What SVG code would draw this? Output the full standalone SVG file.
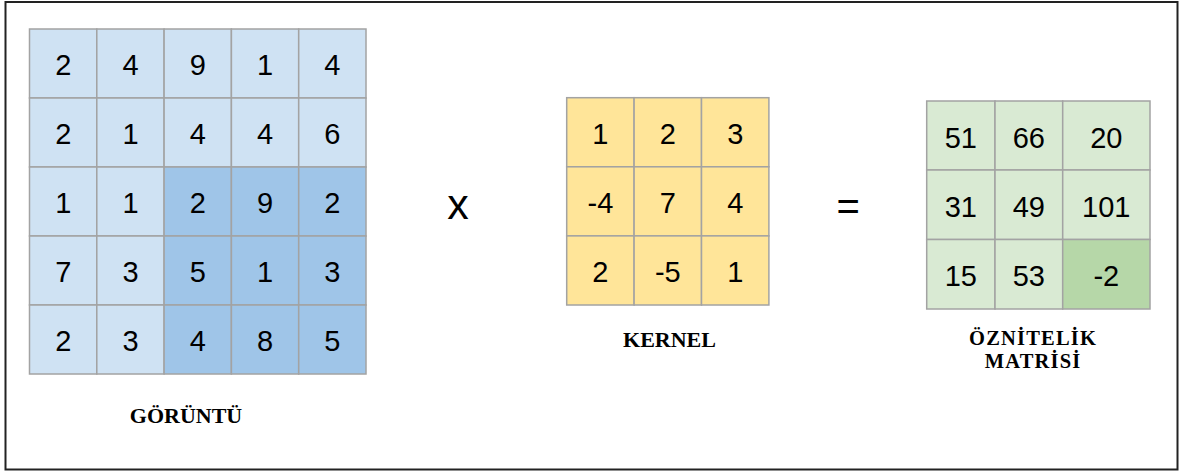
<svg xmlns="http://www.w3.org/2000/svg" width="1187" height="471" viewBox="0 0 1187 471">
<style>
.c{stroke:#a3a3a3;stroke-width:1.5}
.lb{fill:#cfe2f3}.db{fill:#9fc5e8}.y{fill:#ffe599}.lg{fill:#d9ead3}.dg{fill:#b6d7a8}
.n{font-family:"Liberation Sans",Arial,sans-serif;font-size:29px;fill:#000;text-anchor:middle}
.t{font-family:"Liberation Serif","Times New Roman",serif;font-size:22px;font-weight:bold;fill:#000;text-anchor:middle}
.t2{font-family:"Liberation Serif","Times New Roman",serif;font-size:20.5px;letter-spacing:1.2px;font-weight:bold;fill:#000;text-anchor:middle}
.op{font-family:"Liberation Sans",Arial,sans-serif;fill:#000;text-anchor:middle}
</style>
<rect x="0" y="0" width="1187" height="471" fill="#fff"/>
<rect x="5.5" y="2" width="1172" height="467.5" fill="none" stroke="#222" stroke-width="2"/>

<g id="goruntu">
<rect class="c lb" x="29.5" y="29" width="67.3" height="69"/>
<rect class="c lb" x="96.8" y="29" width="67.3" height="69"/>
<rect class="c lb" x="164.1" y="29" width="67.3" height="69"/>
<rect class="c lb" x="231.4" y="29" width="67.3" height="69"/>
<rect class="c lb" x="298.7" y="29" width="67.3" height="69"/>
<rect class="c lb" x="29.5" y="98" width="67.3" height="69"/>
<rect class="c lb" x="96.8" y="98" width="67.3" height="69"/>
<rect class="c lb" x="164.1" y="98" width="67.3" height="69"/>
<rect class="c lb" x="231.4" y="98" width="67.3" height="69"/>
<rect class="c lb" x="298.7" y="98" width="67.3" height="69"/>
<rect class="c lb" x="29.5" y="167" width="67.3" height="69"/>
<rect class="c lb" x="96.8" y="167" width="67.3" height="69"/>
<rect class="c db" x="164.1" y="167" width="67.3" height="69"/>
<rect class="c db" x="231.4" y="167" width="67.3" height="69"/>
<rect class="c db" x="298.7" y="167" width="67.3" height="69"/>
<rect class="c lb" x="29.5" y="236" width="67.3" height="69"/>
<rect class="c lb" x="96.8" y="236" width="67.3" height="69"/>
<rect class="c db" x="164.1" y="236" width="67.3" height="69"/>
<rect class="c db" x="231.4" y="236" width="67.3" height="69"/>
<rect class="c db" x="298.7" y="236" width="67.3" height="69"/>
<rect class="c lb" x="29.5" y="305" width="67.3" height="69"/>
<rect class="c lb" x="96.8" y="305" width="67.3" height="69"/>
<rect class="c db" x="164.1" y="305" width="67.3" height="69"/>
<rect class="c db" x="231.4" y="305" width="67.3" height="69"/>
<rect class="c db" x="298.7" y="305" width="67.3" height="69"/>
<text class="n" x="63.2" y="75">2</text><text class="n" x="130.5" y="75">4</text><text class="n" x="197.8" y="75">9</text><text class="n" x="265.1" y="75">1</text><text class="n" x="332.4" y="75">4</text>
<text class="n" x="63.2" y="144">2</text><text class="n" x="130.5" y="144">1</text><text class="n" x="197.8" y="144">4</text><text class="n" x="265.1" y="144">4</text><text class="n" x="332.4" y="144">6</text>
<text class="n" x="63.2" y="213">1</text><text class="n" x="130.5" y="213">1</text><text class="n" x="197.8" y="213">2</text><text class="n" x="265.1" y="213">9</text><text class="n" x="332.4" y="213">2</text>
<text class="n" x="63.2" y="282">7</text><text class="n" x="130.5" y="282">3</text><text class="n" x="197.8" y="282">5</text><text class="n" x="265.1" y="282">1</text><text class="n" x="332.4" y="282">3</text>
<text class="n" x="63.2" y="351">2</text><text class="n" x="130.5" y="351">3</text><text class="n" x="197.8" y="351">4</text><text class="n" x="265.1" y="351">8</text><text class="n" x="332.4" y="351">5</text>
<text class="t" x="186" y="423">GÖRÜNTÜ</text>
</g>

<g id="operator-x">
<text class="op" x="458" y="219" font-size="43">x</text>
</g>

<g id="kernel">
<rect class="c y" x="566.7" y="97.7" width="67.4" height="69.1"/>
<rect class="c y" x="634.1" y="97.7" width="67.4" height="69.1"/>
<rect class="c y" x="701.5" y="97.7" width="67.4" height="69.1"/>
<rect class="c y" x="566.7" y="166.8" width="67.4" height="69.1"/>
<rect class="c y" x="634.1" y="166.8" width="67.4" height="69.1"/>
<rect class="c y" x="701.5" y="166.8" width="67.4" height="69.1"/>
<rect class="c y" x="566.7" y="235.9" width="67.4" height="69.1"/>
<rect class="c y" x="634.1" y="235.9" width="67.4" height="69.1"/>
<rect class="c y" x="701.5" y="235.9" width="67.4" height="69.1"/>
<text class="n" x="600.4" y="143.8">1</text><text class="n" x="667.8" y="143.8">2</text><text class="n" x="735.2" y="143.8">3</text>
<text class="n" x="600.4" y="212.9">-4</text><text class="n" x="667.8" y="212.9">7</text><text class="n" x="735.2" y="212.9">4</text>
<text class="n" x="600.4" y="282">2</text><text class="n" x="667.8" y="282">-5</text><text class="n" x="735.2" y="282">1</text>
<text class="t" x="669.5" y="346.5">KERNEL</text>
</g>

<g id="operator-eq">
<text class="op" x="848.3" y="219.7" font-size="40">=</text>
</g>

<g id="oznitelik">
<rect class="c lg" x="926.7" y="101" width="68.3" height="69"/>
<rect class="c lg" x="995" y="101" width="67.7" height="69"/>
<rect class="c lg" x="1062.7" y="101" width="87.3" height="69"/>
<rect class="c lg" x="926.7" y="170" width="68.3" height="69.5"/>
<rect class="c lg" x="995" y="170" width="67.7" height="69.5"/>
<rect class="c lg" x="1062.7" y="170" width="87.3" height="69.5"/>
<rect class="c lg" x="926.7" y="239.5" width="68.3" height="69.5"/>
<rect class="c lg" x="995" y="239.5" width="67.7" height="69.5"/>
<rect class="c dg" x="1062.7" y="239.5" width="87.3" height="69.5"/>
<text class="n" x="960.8" y="147.5">51</text><text class="n" x="1028.8" y="147.5">66</text><text class="n" x="1106.3" y="147.5">20</text>
<text class="n" x="960.8" y="216.7">31</text><text class="n" x="1028.8" y="216.7">49</text><text class="n" x="1106.3" y="216.7">101</text>
<text class="n" x="960.8" y="286.2">15</text><text class="n" x="1028.8" y="286.2">53</text><text class="n" x="1106.3" y="286.2">-2</text>
<text class="t2" x="1033.1" y="344.5">ÖZNİTELİK</text>
<text class="t2" x="1033.1" y="367.5">MATRİSİ</text>
</g>
</svg>
